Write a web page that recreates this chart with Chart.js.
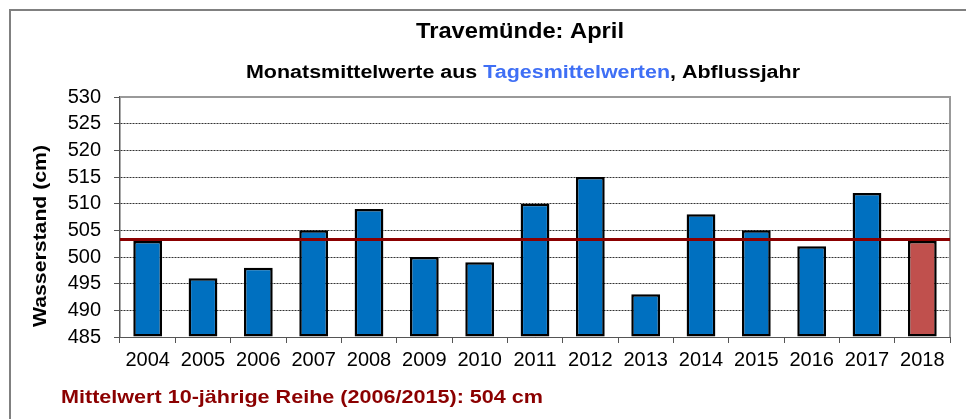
<!DOCTYPE html>
<html>
<head>
<meta charset="utf-8">
<script src="https://cdn.jsdelivr.net/npm/chart.js@4"></script>
<style>
    html, body { margin: 0; padding: 0; background: #fff; }
    #wrap { width: 966px; height: 419px; position: relative; }
</style>
</head>
<body>
<div id="wrap"><canvas id="myChart" width="966" height="419"></canvas></div>
<script>
// data
const years = ['2004', '2005', '2006', '2007', '2008', '2009', '2010', '2011', '2012', '2013', '2014', '2015', '2016', '2017', '2018'];
const waterLevels = [503, 496, 498, 505, 509, 500, 499, 510, 515, 493, 508, 505, 502, 512, 503];
const meanLevel = 503.3;
const yMin = 485;
const yMax = 530;
const yStep = 5;

const FONT = '"Liberation Sans", Arial, sans-serif';

let barColors = years.map(function (y, i) {
    return i === years.length - 1 ? '#C0504D' : '#0070C0';
});

// draws text pieces stretched to a target width (the reference text is a bit wide)
function drawFitted(ctx, parts, cx, cy, font, width, alignLeft) {
    ctx.save();
    ctx.font = font;
    ctx.textBaseline = 'middle';
    ctx.textAlign = 'left';
    let total = 0;
    parts.forEach(function (p) { total += ctx.measureText(p[0]).width; });
    let sx = width / total;
    let x0 = alignLeft ? cx : cx - width / 2;
    ctx.translate(x0, cy);
    ctx.scale(sx, 1);
    let x = 0;
    parts.forEach(function (p) {
        ctx.fillStyle = p[1];
        ctx.fillText(p[0], x, 0);
        x += ctx.measureText(p[0]).width;
    });
    ctx.restore();
}

// titles, footer, frame and mean line
const decoPlugin = {
    id: 'deco',
    beforeDraw: function (chart) {
        let ctx = chart.ctx;
        ctx.save();
        ctx.fillStyle = '#fff';
        ctx.fillRect(0, 0, chart.width, chart.height);
        // outer frame
        ctx.strokeStyle = '#808080';
        ctx.lineWidth = 2;
        ctx.beginPath();
        ctx.moveTo(10, chart.height + 5);
        ctx.lineTo(10, 10);
        ctx.lineTo(chart.width + 5, 10);
        ctx.stroke();
        ctx.restore();
    },
    afterDatasetsDraw: function (chart) {
        let ctx = chart.ctx;
        let area = chart.chartArea;
        let y = chart.scales.y.getPixelForValue(meanLevel);
        ctx.save();
        // plot frame top/right
        ctx.strokeStyle = '#999';
        ctx.lineWidth = 2;
        ctx.beginPath();
        ctx.moveTo(area.left, area.top);
        ctx.lineTo(area.right, area.top);
        ctx.lineTo(area.right, area.bottom);
        ctx.stroke();
        // mean line
        ctx.strokeStyle = '#8B0000';
        ctx.lineWidth = 3;
        ctx.beginPath();
        ctx.moveTo(area.left, y);
        ctx.lineTo(area.right, y);
        ctx.stroke();
        ctx.restore();

        // titles
        drawFitted(ctx, [['Travemünde: April', '#000']], 520, 32, 'bold 22px ' + FONT, 208, false);
        drawFitted(ctx, [['Monatsmittelwerte aus ', '#000'], ['Tagesmittelwerten', '#3F6FF5'], [', Abflussjahr', '#000']],
            523, 73, 'bold 18px ' + FONT, 554, false);

        // y axis title
        ctx.save();
        ctx.translate(41, 236);
        ctx.rotate(-Math.PI / 2);
        drawFitted(ctx, [['Wasserstand (cm)', '#000']], 0, 0, 'bold 19px ' + FONT, 182, false);
        ctx.restore();

        // footer
        drawFitted(ctx, [['Mittelwert 10-jährige Reihe (2006/2015): 504 cm', '#8B0000']], 61, 398, 'bold 19px ' + FONT, 482, true);
    }
};

let ctx = document.getElementById('myChart');
let myChart = new Chart(ctx, {
    type: 'bar',
    data: {
        labels: years,
        datasets: [{
            label: 'Wasserstand',
            data: waterLevels,
            backgroundColor: barColors,
            borderColor: '#000',
            borderWidth: 2.5,
            borderSkipped: false,
            barPercentage: 0.52,
            categoryPercentage: 1.0,
            base: yMin
        }]
    },
    plugins: [decoPlugin],
    options: {
        responsive: false,
        animation: false,
        devicePixelRatio: 1,
        layout: {
            padding: {top: 97, right: 16, bottom: 0, left: 0}
        },
        plugins: {
            legend: {display: false},
            title: {display: false},
            tooltip: {enabled: false}
        },
        scales: {
            x: {
                afterFit: function (scale) { scale.height = 82; },
                grid: {
                    offset: true,
                    drawOnChartArea: false,
                    tickLength: 6,
                    color: '#555'
                },
                border: {color: '#555', width: 1},
                ticks: {
                    color: '#000',
                    padding: 5,
                    maxRotation: 0,
                    autoSkip: false,
                    font: {family: FONT, size: 20}
                }
            },
            y: {
                min: yMin,
                max: yMax,
                afterFit: function (scale) { scale.width = 120; },
                grid: {
                    color: '#333',
                    lineWidth: 1,
                    tickLength: 6,
                    tickColor: '#555'
                },
                border: {color: '#555', width: 1.5, dash: [2, 1]},
                ticks: {
                    stepSize: yStep,
                    autoSkip: false,
                    color: '#000',
                    padding: 13,
                    font: {family: FONT, size: 20}
                }
            }
        }
    }
});
</script>
</body>
</html>
